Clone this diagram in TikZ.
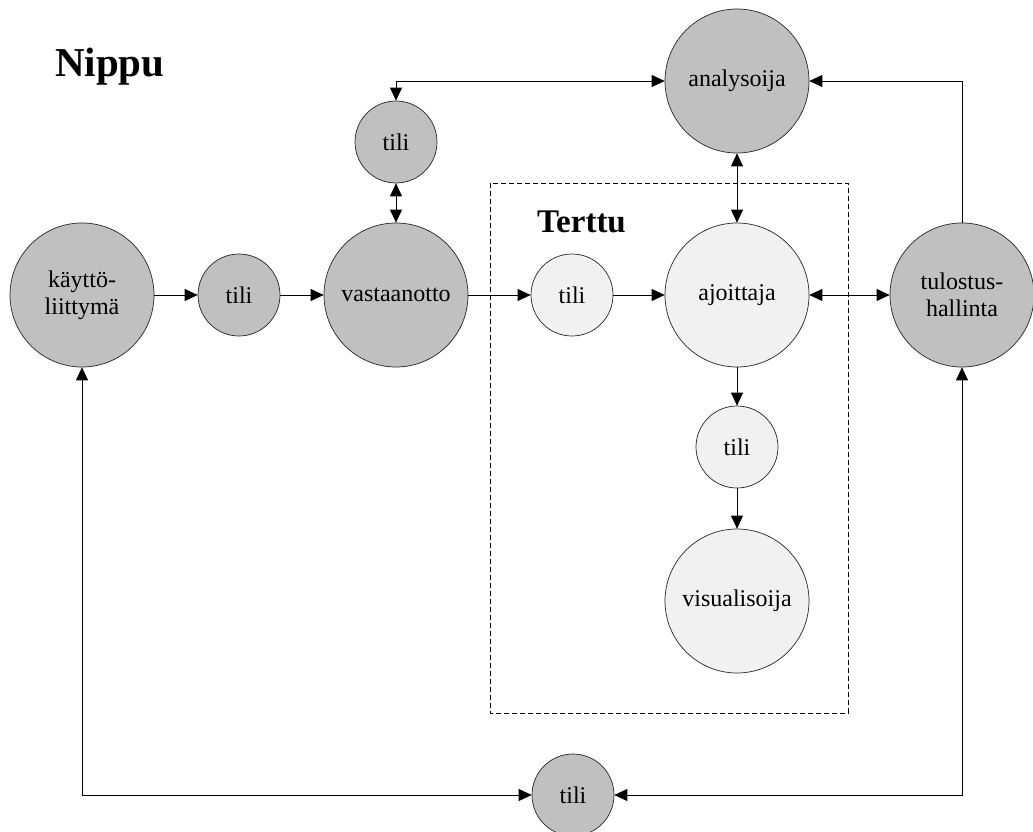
\documentclass[tikz,border=0pt]{standalone}
\usepackage{fontspec}
\setmainfont{Liberation Serif}
\usetikzlibrary{arrows.meta}
\definecolor{darkfill}{HTML}{C0C0C0}
\definecolor{lightfill}{HTML}{F1F1F1}
\begin{document}
\begin{tikzpicture}[x=1pt,y=-1pt,
  node/.style={circle,draw=black!85,line width=0.7pt,inner sep=0pt,align=center,font=\fontsize{24}{27}\selectfont},
  big/.style={node,minimum size=144pt},
  small/.style={node,minimum size=82pt},
  dark/.style={fill=darkfill},
  light/.style={fill=lightfill},
  conn/.style={line width=0.8pt,-{Triangle[length=13pt,width=12pt]}},
  dconn/.style={line width=0.8pt,{Triangle[length=13pt,width=12pt]}-{Triangle[length=13pt,width=12pt]}},
  title/.style={font=\bfseries\fontsize{41}{44}\selectfont,inner sep=0pt}]
\useasboundingbox (0,0) rectangle (1033,832);
\fill[white] (0,0) rectangle (1033,832);

% dashed frame
\draw[dashed,line width=0.8pt,dash pattern=on 5pt off 3pt] (490,183) rectangle (848,713);

% titles
\node[title,anchor=base west] (nippu) at (55,77) {Nippu};
\node[title,font=\bfseries\fontsize{33}{36}\selectfont,anchor=base west] (terttu) at (537,232) {Terttu};

% nodes
\node[big,dark] (kay) at (82,295) {käyttö-\\liittymä};
\node[small,dark] (tili1) at (239,295) {tili};
\node[big,dark] (vast) at (396,295) {vastaanotto};
\node[small,dark] (tilitop) at (396,142) {tili};
\node[big,dark] (ana) at (737,81) {analysoija};
\node[small,light] (tilit) at (572,295) {tili};
\node[big,light] (ajo) at (737,295) {ajoittaja};
\node[big,dark] (tul) at (962,295) {tulostus-\\hallinta};
\node[small,light] (tiliv) at (737,447) {tili};
\node[big,light] (vis) at (737,601) {visualisoija};
\node[small,dark] (tilib) at (573,795) {tili};

% connectors
\draw[conn] (kay) -- (tili1);
\draw[conn] (tili1) -- (vast);
\draw[conn] (vast) -- (tilit);
\draw[conn] (tilit) -- (ajo);
\draw[dconn] (tilitop) -- (vast);
\draw[dconn] (ana.west) -| (tilitop.north);
\draw[dconn] (ana) -- (ajo);
\draw[dconn] (ajo) -- (tul);
\draw[conn] (tul.north) |- (ana.east);
\draw[conn] (ajo) -- (tiliv);
\draw[conn] (tiliv) -- (vis);
\draw[dconn] (kay.south) |- (tilib.west);
\draw[dconn] (tul.south) |- (tilib.east);
\end{tikzpicture}
\end{document}
